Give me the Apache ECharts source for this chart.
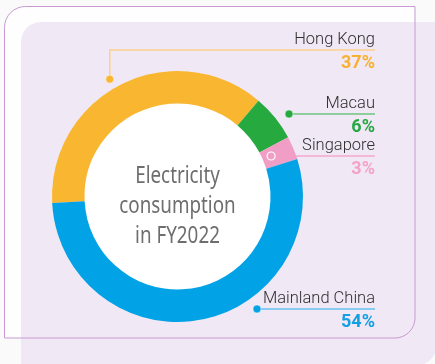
<!DOCTYPE html>
<html>
<head>
<meta charset="utf-8">
<script src="https://cdn.jsdelivr.net/npm/echarts@6/dist/echarts.min.js"></script>
<style>
  html, body { margin: 0; padding: 0; background: #fafafa; }
  #chart { width: 435px; height: 364px; }
</style>
</head>
<body>
<div id="chart"></div>
<script>
// Electricity consumption by region, FY2022 (percent of total)
const categories = ['Hong Kong', 'Macau', 'Singapore', 'Mainland China'];
const shares = [37, 6, 3, 54];
const centerTitle = ['Electricity', 'consumption', 'in FY2022'];

// Styling
const sliceColors = ['#f9b731', '#26a93f', '#f19ec6', '#02a2e6'];
const pctColors   = ['#f8b12f', '#25a843', '#f4a2ca', '#12a0e4'];
const leaderColors = ['#fbd08a', '#6cc47f', '#f0aacd', '#63c2ef'];

const CX = 177.5, CY = 196.5, R_IN = 93, R_OUT = 125.5;
const LABEL_RIGHT = 375;
// Leader anchors around the ring: angle clockwise from 12 o'clock, distance from centre
const anchors = [
  { angle: 330, dist: 135.5, elbowY: 50, dot: 'solid' },
  { angle: 53.5, dist: 138.7, dot: 'solid' },
  { angle: 66.6, dist: 102, dot: 'hollow' },
  { angle: 144.75, dist: 137.7, dot: 'solid' }
];

function anchorPoint(i) {
  const a = anchors[i].angle * Math.PI / 180;
  return [CX + anchors[i].dist * Math.sin(a), CY - anchors[i].dist * Math.cos(a)];
}

const NAME_LH = 21, PCT_LH = 27;

const pieData = categories.map((name, i) => ({
  name: name,
  value: shares[i],
  itemStyle: { color: sliceColors[i] },
  label: {
    rich: {
      n: { fontFamily: 'Roboto', fontWeight: 300, fontSize: 16.5, lineHeight: NAME_LH, color: '#2f2f2f', align: 'right' },
      p: { fontFamily: 'Roboto', fontWeight: 'bold', fontSize: 18, lineHeight: PCT_LH, color: pctColors[i], align: 'right' }
    }
  },
  labelLine: { lineStyle: { color: leaderColors[i], width: 1.5 } }
}));

const dotGraphics = anchors.map((an, i) => {
  const p = anchorPoint(i);
  if (an.dot === 'hollow') {
    return { type: 'circle', z: 100, shape: { cx: p[0], cy: p[1], r: 4 },
             style: { fill: 'none', stroke: '#ffffff', lineWidth: 1.2 } };
  }
  return { type: 'circle', z: 100, shape: { cx: p[0], cy: p[1], r: 4 },
           style: { fill: sliceColors[i], stroke: 'rgba(255,255,255,0.6)', lineWidth: 0.8 } };
});

const chart = echarts.init(document.getElementById('chart'), null, { renderer: 'canvas' });

chart.setOption({
  backgroundColor: '#fafafa',
  animation: false,
  graphic: [
    // outer card
    { type: 'rect', z: -30, shape: { x: 4.5, y: 6.5, width: 410.5, height: 331.5, r: [21, 0, 20, 0] },
      style: { fill: '#fefefe', stroke: null } },
    // lavender panel
    { type: 'rect', z: -20, shape: { x: 21, y: 22, width: 416, height: 344, r: [20, 0, 22, 0] },
      style: { fill: '#f1e8f5' } },
    // card outline
    { type: 'rect', z: -10, shape: { x: 4.5, y: 6.5, width: 410.5, height: 331.5, r: [21, 0, 20, 0] },
      style: { fill: 'none', stroke: '#c89ad1', lineWidth: 1 } },
    // donut hole
    { type: 'circle', z: -5, shape: { cx: CX, cy: CY, r: R_IN + 1 }, style: { fill: '#ffffff' } },
    {
      // condensed centre caption
      type: 'text', z: 50, x: CX, y: 206, scaleX: 0.8, originX: 0, originY: 0,
      style: {
        text: centerTitle.join('\n'),
        fontFamily: '"Noto Sans", "Open Sans", sans-serif',
        fontSize: 23.5, lineHeight: 30, fill: '#6e6e6e',
        align: 'center', verticalAlign: 'middle'
      }
    }
  ].concat(dotGraphics),
  series: [{
    type: 'pie',
    center: [CX, CY],
    radius: [R_IN, R_OUT],
    startAngle: 183,
    clockwise: true,
    avoidLabelOverlap: false,
    silent: true,
    label: {
      show: true,
      position: 'outside',
      formatter: '{n|{b}}\n{p|{c}%}'
    },
    labelLine: { show: true, length: 5, length2: 5, smooth: false },
    labelLayout: function (params) {
      const i = params.dataIndex;
      const p = anchorPoint(i);
      const lineY = anchors[i].elbowY !== undefined ? anchors[i].elbowY : p[1];
      const pts = anchors[i].elbowY !== undefined
        ? [[p[0], p[1]], [p[0], lineY], [LABEL_RIGHT, lineY]]
        : [[p[0], lineY], [(p[0] + LABEL_RIGHT) / 2, lineY], [LABEL_RIGHT, lineY]];
      return {
        x: LABEL_RIGHT,
        y: lineY - NAME_LH,
        align: 'right',
        verticalAlign: 'top',
        labelLinePoints: pts
      };
    },
    data: pieData
  }]
});
</script>
</body>
</html>
